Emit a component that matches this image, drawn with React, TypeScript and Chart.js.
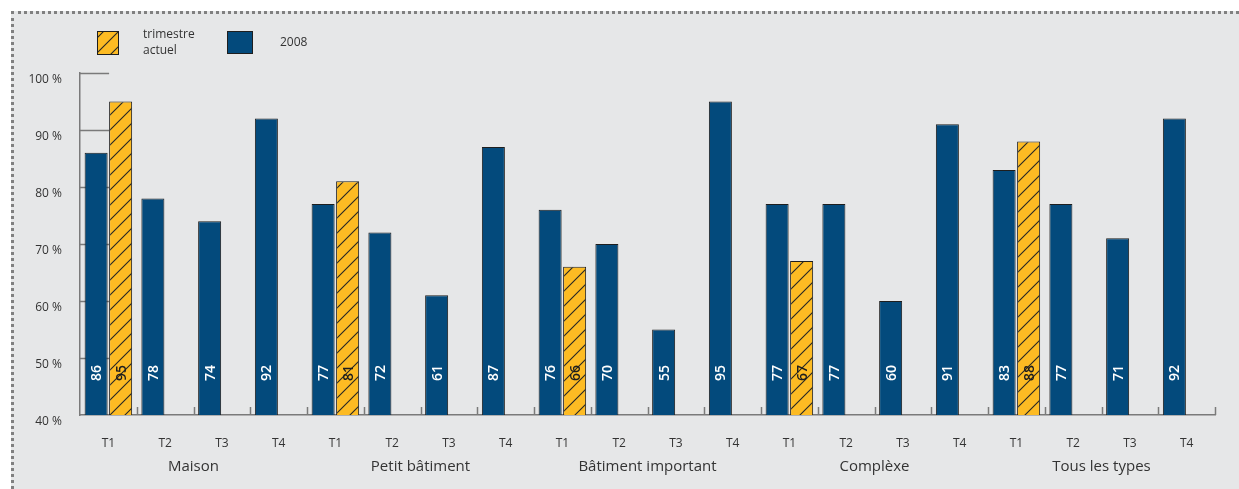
import React, { useEffect, useRef } from 'react';
import { Chart, registerables } from 'chart.js';

Chart.register(...registerables);

const quarters = ['T1', 'T2', 'T3', 'T4'];
const groups = ['Maison', 'Petit bâtiment', 'Bâtiment important', 'Complèxe', 'Tous les types'];
const categories = groups.flatMap(() => quarters);
const values2008 = [86, 78, 74, 92, 77, 72, 61, 87, 76, 70, 55, 95, 77, 77, 60, 91, 83, 77, 71, 92];
const valuesCurrent = [95, null, null, null, 81, null, null, null, 66, null, null, null, 67, null, null, null, 88, null, null, null];
const yMin = 40;
const yMax = 100;
const yStep = 10;
const legendCurrent = ['trimestre', 'actuel'];
const legend2008 = '2008';

const BLUE = '#034a7c';
const YELLOW = '#fdbb23';
const EDGE = '#1e1e1e';
const TEXT = '#333333';
const AXIS = '#7a7a7a';
const FONT = "'Open Sans', 'Noto Sans', sans-serif";

function makeHatch(): CanvasPattern | string {
  const c = document.createElement('canvas');
  const s = 15;
  c.width = s;
  c.height = s;
  const g = c.getContext('2d');
  if (!g) return YELLOW;
  g.fillStyle = YELLOW;
  g.fillRect(0, 0, s, s);
  g.strokeStyle = '#262626';
  g.lineWidth = 1.1;
  g.beginPath();
  g.moveTo(0, s);
  g.lineTo(s, 0);
  g.moveTo(-2, 2);
  g.lineTo(2, -2);
  g.moveTo(s - 2, s + 2);
  g.lineTo(s + 2, s - 2);
  g.stroke();
  const p = g.createPattern(c, 'repeat');
  return p || YELLOW;
}

export default function App() {
  const ref = useRef<HTMLCanvasElement>(null);

  useEffect(() => {
    const canvas = ref.current;
    if (!canvas) return;
    const hatch = makeHatch();

    const decor = {
      id: 'decor',
      beforeDatasetsDraw(chart: any) {
        const { ctx, chartArea } = chart;
        const y = chart.scales.y;
        const metaCur = chart.getDatasetMeta(1);
        const el = metaCur.data[0];
        const end = el ? el.x - el.width / 2 : chartArea.left + 28;
        ctx.save();
        ctx.strokeStyle = AXIS;
        ctx.lineWidth = 1.5;
        for (let v = yMin + yStep; v <= yMax; v += yStep) {
          const py = Math.round(y.getPixelForValue(v)) + 0.5;
          ctx.beginPath();
          ctx.moveTo(chartArea.left, py);
          ctx.lineTo(end, py);
          ctx.stroke();
        }
        ctx.restore();
      },
      afterDatasetsDraw(chart: any) {
        const { ctx, chartArea } = chart;
        ctx.save();
        ctx.font = `600 14px ${FONT}`;
        ctx.textAlign = 'center';
        ctx.textBaseline = 'middle';
        [0, 1].forEach((di) => {
          const meta = chart.getDatasetMeta(di);
          const data = chart.data.datasets[di].data;
          meta.data.forEach((el: any, i: number) => {
            const v = data[i];
            if (v === null || v === undefined) return;
            ctx.save();
            ctx.translate(el.x, chartArea.bottom - 42);
            ctx.rotate(-Math.PI / 2);
            ctx.fillStyle = di === 0 ? '#ffffff' : '#1e1e1e';
            ctx.fillText(String(v), 0, 1);
            ctx.restore();
          });
        });
        // inner ticks on x axis at slot boundaries
        const xs = chart.scales.x;
        const n = xs.ticks.length;
        const slot = (xs.right - xs.left) / n;
        ctx.strokeStyle = AXIS;
        ctx.lineWidth = 1.5;
        for (let i = 1; i <= n; i++) {
          const px = Math.round(xs.left + i * slot) + 0.5;
          ctx.beginPath();
          ctx.moveTo(px, chartArea.bottom);
          ctx.lineTo(px, chartArea.bottom - 8);
          ctx.stroke();
        }
        ctx.restore();
      },
      afterDraw(chart: any) {
        const { ctx } = chart;
        ctx.save();
        // legend: current quarter
        ctx.fillStyle = hatch as any;
        ctx.fillRect(97, 31, 22, 24);
        ctx.strokeStyle = EDGE;
        ctx.lineWidth = 1;
        ctx.strokeRect(97.5, 31.5, 21, 23);
        ctx.fillStyle = TEXT;
        ctx.font = `12px ${FONT}`;
        ctx.textAlign = 'left';
        ctx.textBaseline = 'middle';
        ctx.fillText(legendCurrent[0], 143, 35);
        ctx.fillText(legendCurrent[1], 143, 51);
        // legend: 2008
        ctx.fillStyle = BLUE;
        ctx.fillRect(227, 31, 26, 23);
        ctx.strokeStyle = EDGE;
        ctx.strokeRect(227.5, 31.5, 25, 22);
        ctx.fillStyle = TEXT;
        ctx.fillText(legend2008, 280, 43);
        ctx.restore();
      },
    };

    const chart = new Chart(canvas, {
      type: 'bar',
      data: {
        labels: categories,
        datasets: [
          {
            label: legend2008,
            data: values2008,
            backgroundColor: BLUE,
            borderColor: EDGE,
            borderWidth: 1,
            categoryPercentage: 0.863,
            barPercentage: 0.94,
            xAxisID: 'x',
          },
          {
            label: legendCurrent.join(' '),
            data: valuesCurrent as any,
            backgroundColor: hatch as any,
            borderColor: EDGE,
            borderWidth: 1,
            categoryPercentage: 0.863,
            barPercentage: 0.94,
            xAxisID: 'x',
          },
        ],
      },
      options: {
        responsive: false,
        animation: false,
        devicePixelRatio: 1,
        layout: { padding: { top: 73, right: 24, bottom: 6, left: 0 } },
        plugins: {
          legend: { display: false },
          tooltip: { enabled: false },
        },
        scales: {
          y: {
            min: yMin,
            max: yMax,
            ticks: {
              stepSize: yStep,
              callback: (v: any) => `${v} %`,
              padding: 18,
              labelOffset: 7,
              color: TEXT,
              font: { family: FONT, size: 12 },
            },
            grid: { display: false, drawTicks: false },
            border: { display: true, color: AXIS, width: 1.5 },
            afterFit: (s: any) => {
              s.width = 80;
            },
          },
          x: {
            type: 'category',
            weight: 1,
            offset: true,
            ticks: {
              padding: 21,
              color: TEXT,
              font: { family: FONT, size: 12 },
              maxRotation: 0,
              autoSkip: false,
            },
            grid: { display: false, drawTicks: false },
            border: { display: true, color: AXIS, width: 1.5 },
            afterFit: (s: any) => {
              s.height = 38;
            },
          },
          x2: {
            type: 'category',
            position: 'bottom',
            weight: 2,
            labels: groups,
            offset: true,
            ticks: {
              padding: 5,
              color: TEXT,
              font: { family: FONT, size: 15 },
              maxRotation: 0,
              autoSkip: false,
            },
            grid: { display: false, drawTicks: false },
            border: { display: false },
            afterFit: (s: any) => {
              s.height = 30;
            },
          },
        } as any,
      },
      plugins: [decor],
    });

    return () => {
      chart.destroy();
    };
  }, []);

  return (
    <>
      <div
        style={{
          position: 'fixed',
          left: 11,
          top: 11,
          right: 0,
          bottom: 0,
          background: '#e6e7e8',
          borderTop: '3px dotted #808080',
          borderLeft: '3px dotted #808080',
        }}
      />
      <canvas
        ref={ref}
        width={1239}
        height={489}
        style={{ position: 'fixed', left: 0, top: 0, width: 1239, height: 489 }}
      />
    </>
  );
}
